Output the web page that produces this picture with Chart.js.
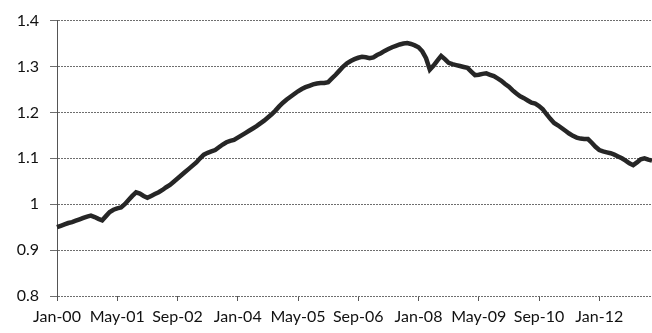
<!DOCTYPE html>
<html>
<head>
<meta charset="utf-8">
<script src="https://cdn.jsdelivr.net/npm/chart.js@4.4.1/dist/chart.umd.min.js"></script>
<style>
  html, body { margin: 0; padding: 0; background: #fff; }
  #chart { display: block; }
</style>
</head>
<body>
<canvas id="chart" width="652" height="333"></canvas>
<script>
// Monthly index, Jan-2000 onwards

const MONTH_NAMES = ['Jan', 'Feb', 'Mar', 'Apr', 'May', 'Jun',
    'Jul', 'Aug', 'Sep', 'Oct', 'Nov', 'Dec'];
const START_YEAR = 2000;
const LABEL_EVERY = 16;   // one axis label per 16 months

const values = [
    0.950, 0.953, 0.956, 0.959, 0.961, 0.964, 0.967, 0.970, 0.973, 0.975,
    0.972, 0.968, 0.965, 0.974, 0.983, 0.988, 0.991, 0.993, 1.000, 1.009,
    1.018, 1.026, 1.023, 1.018, 1.014, 1.018, 1.022, 1.026, 1.031, 1.037,
    1.042, 1.049, 1.056, 1.063, 1.070, 1.077, 1.084, 1.091, 1.100, 1.108,
    1.112, 1.115, 1.118, 1.124, 1.130, 1.135, 1.138, 1.140, 1.145, 1.150,
    1.155, 1.160, 1.165, 1.170, 1.176, 1.182, 1.189, 1.196, 1.204, 1.213,
    1.221, 1.228, 1.234, 1.240, 1.246, 1.251, 1.255, 1.258, 1.261, 1.263,
    1.264, 1.264, 1.266, 1.274, 1.282, 1.291, 1.300, 1.307, 1.312, 1.316,
    1.319, 1.321, 1.320, 1.318, 1.320, 1.325, 1.329, 1.334, 1.338, 1.342,
    1.345, 1.348, 1.350, 1.351, 1.349, 1.346, 1.342, 1.333, 1.318, 1.293,
    1.302, 1.313, 1.323, 1.316, 1.308, 1.305, 1.303, 1.301, 1.299, 1.297,
    1.289, 1.281, 1.282, 1.284, 1.285, 1.282, 1.279, 1.274, 1.269, 1.262,
    1.256, 1.248, 1.241, 1.235, 1.231, 1.226, 1.221, 1.219, 1.214, 1.207,
    1.196, 1.186, 1.177, 1.172, 1.166, 1.160, 1.154, 1.149, 1.145, 1.143,
    1.142, 1.142, 1.134, 1.125, 1.118, 1.115, 1.113, 1.111, 1.108, 1.104,
    1.100, 1.095, 1.089, 1.085, 1.091, 1.098, 1.100, 1.097, 1.095,
];

const Y_MIN = 0.8;
const Y_MAX = 1.4;
const Y_STEP = 0.1;

// Jan-00, Feb-00, ...
const months = values.map((_, i) => {
    const m = i % 12;
    const y = (START_YEAR + Math.floor(i / 12)) % 100;
    return MONTH_NAMES[m] + '-' + String(y).padStart(2, '0');
});

const FONT = { family: 'Lato, "Open Sans", sans-serif', size: 16 };

new Chart(document.getElementById('chart'), {
    type: 'line',
    data: {
        labels: months,
        datasets: [{
            data: values,
            borderColor: '#262626',
            borderWidth: 4.5,
            pointRadius: 0,
            tension: 0,
            fill: false,
        }],
    },
    options: {
        responsive: false,
        animation: false,
        layout: { padding: { top: 16, right: 0, left: 0, bottom: 0 } },
        plugins: {
            legend: { display: false },
            tooltip: { enabled: false },
        },
        scales: {
            x: {
                offset: false,
                border: { display: false },
                grid: {
                    drawOnChartArea: false,
                    drawTicks: true,
                    tickLength: 5,
                    color: '#555',
                },
                ticks: {
                    autoSkip: false,
                    maxRotation: 0,
                    padding: 6,
                    color: '#111',
                    font: FONT,
                    callback: function (val, i) {
                        return i % LABEL_EVERY === 0 ? this.getLabelForValue(val) : null;
                    },
                },
                afterFit: (scale) => { scale.height = 37; },
            },
            y: {
                min: Y_MIN,
                max: Y_MAX,
                // dash applies to the horizontal grid lines
                border: { display: true, color: '#555', width: 1, dash: [2, 1] },
                grid: {
                    color: '#6e6e6e',
                    lineWidth: 1,
                    tickLength: 7,
                },
                ticks: {
                    stepSize: Y_STEP,
                    padding: 11,
                    color: '#111',
                    font: FONT,
                    callback: (v) => String(+v.toFixed(1)),
                },
                afterFit: (scale) => { scale.width = 57; },
            },
        },
    },
});
</script>
</body>
</html>
